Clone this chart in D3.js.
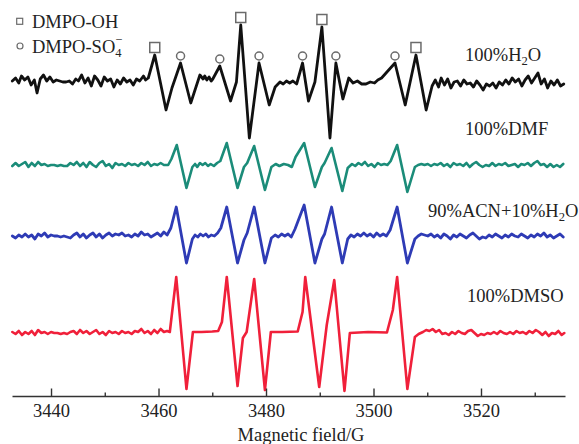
<!DOCTYPE html>
<html>
<head>
<meta charset="utf-8">
<script src="https://cdn.jsdelivr.net/npm/d3@7"></script>
<style>
  html, body { margin: 0; padding: 0; background: #fff; }
  svg { display: block; }
  text { font-family: "Liberation Serif", "Times New Roman", serif; fill: #222; }
</style>
</head>
<body>
<svg id="chart" width="579" height="444"></svg>
<script>
// EPR spectra: [magnetic field (G), intensity (a.u.)]
const h2o = [
  [3432.8,1],[3433.4,4],[3434.0,-1],[3434.5,6],[3435.1,2],[3435.7,5],[3436.3,-3],[3436.9,2],[3437.4,-11],[3438.0,3],
  [3438.6,7],[3439.2,1],[3439.8,5],[3440.4,0],[3441.0,2],[3441.6,1],[3442.2,0],[3442.8,0],[3443.4,1],[3444.0,-2],
  [3444.6,3],[3445.1,1],[3445.7,7],[3446.3,-1],[3446.9,4],[3447.5,-4],[3448.1,6],[3448.7,2],[3449.3,-4],[3449.9,5],
  [3450.5,1],[3451.1,3],[3451.7,-5],[3452.3,2],[3452.9,-2],[3453.5,4],[3454.1,0],[3454.7,2],[3455.3,-3],[3455.9,3],
  [3456.5,1],[3457.2,6],[3457.6,2],[3458.1,4],
  [3459.3,27],[3461.4,-28],[3462.5,-6],[3464.1,19],[3466.0,-21],[3467.7,7],[3468.3,3],[3468.6,6],[3469.0,2],[3469.4,5],
  [3469.8,1],[3470.1,3],[3471.4,16],[3473.4,-19],[3474.5,0],[3475.3,57],[3476.9,-56],[3478.7,19],[3480.6,-23],[3481.7,-5],
  [3482.6,0],[3483.2,-2],[3483.8,1],[3484.4,-1],[3485.0,1],[3485.7,-2],[3486.8,19],[3487.9,-19],[3489.1,0],[3490.4,55],
  [3491.9,-56],[3493.0,19],[3494.3,-17],[3495.4,4],[3496.2,-1],[3497.0,1],[3497.8,-2],[3498.6,-2],[3499.4,0],[3500.2,-1],
  [3500.8,2],[3501.5,4],[3502.5,10],[3504.0,19],[3505.9,-23],[3507.9,27],[3509.8,-28],[3510.9,-4],
  [3511.5,2],[3512.1,-5],[3512.6,4],[3513.2,-3],[3513.8,3],[3514.4,-6],[3515.0,0],[3515.6,1],[3516.2,-4],[3516.8,2],
  [3517.4,-2],[3518.0,-1],[3518.6,-5],[3519.2,1],[3519.8,-3],[3520.4,-8],[3521.0,-2],[3521.6,-4],[3522.2,-1],[3522.8,-6],
  [3523.4,0],[3524.0,-3],[3524.6,2],[3525.2,-2],[3525.8,4],[3526.4,0],[3527.0,3],[3527.6,-4],[3528.2,2],[3528.8,6],
  [3529.4,-1],[3530.0,4],[3530.6,9],[3531.2,-2],[3531.8,3],[3532.4,-6],[3533.0,1],[3533.6,-3],[3534.2,2],[3534.8,-4],
  [3535.4,-2]
];

const dmf = [
  [3432.8,-1],[3433.4,2],[3434.0,-1],[3434.6,1],[3435.2,3],[3435.8,-2],[3436.4,2],[3437.0,-1],[3437.6,3],[3438.2,0],
  [3438.8,1],[3439.4,-1],[3440.0,0],[3440.6,0],[3441.2,-1],[3441.8,0],[3442.4,-1],[3443.0,-1],[3443.6,2],[3444.2,0],
  [3444.8,3],[3445.4,-1],[3446.0,2],[3446.6,-2],[3447.2,3],[3447.8,0],[3448.4,-2],[3449.0,2],[3449.6,4],[3450.2,-1],
  [3450.8,1],[3451.4,-3],[3452.0,2],[3452.6,0],[3453.2,1],[3453.8,-1],[3454.4,2],[3455.0,0],[3455.6,1],[3456.2,-1],
  [3456.8,2],[3457.4,0],[3458.0,3],[3458.6,-1],[3459.2,1],[3459.8,0],[3460.4,2],[3461.0,0],[3461.8,0],
  [3462.4,6],[3463.4,20],[3465.2,-23],[3466.3,-2],[3466.8,1],[3467.2,-2],[3467.7,2],[3468.2,0],[3468.7,2],[3469.2,-1],
  [3469.7,1],[3470.3,-1],[3470.9,2],[3471.5,4],[3472.7,22],[3474.7,-23],[3475.9,-2],[3476.5,2],[3477.8,19],[3479.8,-25],
  [3481.0,-2],[3481.8,1],[3482.5,-1],[3483.3,1],[3484.1,0],[3484.8,-2],[3485.5,8],[3487.1,22],[3489.1,-22],[3490.4,-2],
  [3490.9,2],[3492.2,17],[3494.2,-26],[3495.2,-3],[3496.0,1],[3496.6,-1],[3497.2,2],[3497.8,0],[3498.4,3],[3499.0,-1],
  [3499.6,1],[3500.2,-2],[3500.8,2],[3501.4,0],[3502.0,1],[3502.6,0],[3503.2,4],[3504.4,20],[3506.3,-27],[3507.7,-2],
  [3508.3,0],[3508.9,1],[3509.5,0],[3510.1,1],[3510.7,-1],[3511.3,1],[3511.9,0],[3512.5,2],[3513.1,-1],[3513.7,1],
  [3514.3,-2],[3514.9,2],[3515.5,0],[3516.1,1],[3516.7,-1],[3517.3,2],[3517.9,-2],[3518.5,1],[3519.1,3],[3519.7,0],
  [3520.3,-2],[3520.9,0],[3521.5,-1],[3522.1,2],[3522.7,-1],[3523.3,1],[3523.9,0],[3524.5,2],[3525.1,-1],[3525.7,0],
  [3526.3,1],[3526.9,-2],[3527.5,1],[3528.1,0],[3528.7,2],[3529.3,-1],[3529.9,2],[3530.5,4],[3531.1,0],[3531.7,1],
  [3532.3,-2],[3532.9,1],[3533.5,-2],[3534.1,0],[3534.7,-2],[3535.3,1]
];

const acnWater = [
  [3432.8,0],[3433.4,-2],[3434.0,1],[3434.6,-1],[3435.2,2],[3435.8,-1],[3436.4,1],[3437.0,-3],[3437.6,2],[3438.2,0],
  [3438.8,3],[3439.4,-1],[3440.0,1],[3440.6,0],[3441.2,0],[3441.8,-1],[3442.4,0],[3443.0,-1],[3443.6,-2],[3444.2,1],
  [3444.8,3],[3445.4,-1],[3446.0,2],[3446.6,-2],[3447.2,1],[3447.8,3],[3448.4,-1],[3449.0,2],[3449.6,-2],[3450.2,1],
  [3450.8,3],[3451.4,0],[3452.0,2],[3452.6,1],[3453.2,3],[3453.8,0],[3454.4,1],[3455.0,-1],[3455.6,2],[3456.2,0],
  [3456.8,4],[3457.4,1],[3458.0,2],[3458.6,-1],[3459.2,1],[3459.8,3],[3460.4,0],[3461.0,4],[3461.6,1],
  [3462.3,8],[3463.3,29],[3465.2,-27],[3466.3,-3],[3466.8,1],[3467.3,-1],[3467.8,2],[3468.3,0],[3468.8,2],[3469.3,-1],
  [3469.8,1],[3470.4,0],[3471.0,3],[3471.6,8],[3472.7,29],[3474.7,-27],[3475.9,-4],[3476.5,3],[3477.8,29],[3479.8,-27],
  [3481.0,-2],[3481.7,1],[3482.3,-1],[3482.9,2],[3483.5,0],[3484.1,2],[3484.7,-1],[3485.4,7],[3487.1,31],[3489.1,-27],
  [3490.4,-3],[3490.9,2],[3492.2,29],[3494.2,-27],[3495.2,-3],[3495.8,1],[3496.4,-1],[3497.0,2],[3497.6,0],[3498.2,3],
  [3498.8,0],[3499.4,2],[3500.0,-1],[3500.6,3],[3501.2,0],[3501.8,2],[3502.4,0],[3503.1,6],[3504.4,29],[3506.3,-27],
  [3507.7,-3],[3508.3,0],[3508.9,2],[3509.5,1],[3510.1,0],[3510.7,2],[3511.3,-1],[3511.9,1],[3512.5,-2],[3513.1,2],
  [3513.7,0],[3514.3,-3],[3514.9,1],[3515.5,-1],[3516.1,2],[3516.7,0],[3517.3,-2],[3517.9,1],[3518.5,3],[3519.1,0],
  [3519.7,-3],[3520.3,-1],[3520.9,-2],[3521.5,1],[3522.1,-1],[3522.7,2],[3523.3,0],[3523.9,-2],[3524.5,1],[3525.1,-1],
  [3525.7,2],[3526.3,0],[3526.9,-1],[3527.5,2],[3528.1,0],[3528.7,-2],[3529.3,1],[3529.9,-1],[3530.5,2],[3531.1,0],
  [3531.7,3],[3532.3,-1],[3532.9,1],[3533.5,-2],[3534.1,0],[3534.7,2],[3535.3,-1]
];

const dmso = [
  [3432.8,1],[3433.4,-1],[3434.0,2],[3434.6,-2],[3435.2,1],[3435.8,-1],[3436.4,2],[3437.0,-2],[3437.6,3],[3438.2,0],
  [3438.8,1],[3439.4,-1],[3440.0,1],[3440.6,0],[3441.2,0],[3441.8,-1],[3442.4,0],[3443.0,-1],[3443.6,1],[3444.2,2],
  [3444.8,-1],[3445.4,3],[3446.0,0],[3446.6,2],[3447.2,-1],[3447.8,1],[3448.4,3],[3449.0,-1],[3449.6,1],[3450.2,-2],
  [3450.8,2],[3451.4,0],[3452.0,1],[3452.6,-1],[3453.2,2],[3453.8,0],[3454.4,1],[3455.0,-1],[3455.6,2],[3456.2,1],
  [3456.8,4],[3457.4,0],[3458.0,2],[3458.6,-1],[3459.2,3],[3459.8,0],[3460.4,4],[3461.0,1],[3461.6,2],[3462.1,1],
  [3463.3,56],[3465.2,-56],[3466.4,1],[3468.0,1],[3470.0,1.5],[3471.1,2],[3471.8,11],[3472.7,56],[3474.7,-53],[3475.7,-5],
  [3476.4,1],[3477.8,54],[3479.8,-57],[3480.9,1],[3483.0,1],[3485.9,1.5],[3486.8,21],[3487.3,56],[3489.9,-54],[3491.3,8],
  [3492.7,53],[3494.6,-58],[3495.6,0],[3499.0,1],[3502.5,0.5],[3503.6,23],[3504.4,56],[3506.3,-56],[3507.7,-4],[3508.4,-1],
  [3509.2,1],[3509.8,3],[3510.4,2],[3511.0,4],[3511.6,1],[3512.2,3],[3512.8,-1],[3513.4,0],[3514.0,-2],[3514.6,1],
  [3515.2,-1],[3515.8,2],[3516.4,0],[3517.0,-1],[3517.6,2],[3518.2,3],[3518.8,0],[3519.4,-3],[3520.0,-1],[3520.6,-2],
  [3521.2,0],[3521.8,-1],[3522.4,1],[3523.0,-1],[3523.6,2],[3524.2,0],[3524.8,-1],[3525.4,1],[3526.0,-1],[3526.6,2],
  [3527.2,0],[3527.8,1],[3528.4,-1],[3529.0,2],[3529.6,0],[3530.2,3],[3530.8,1],[3531.4,-2],[3532.0,1],[3532.6,-3],
  [3533.2,0],[3533.8,-1],[3534.4,2],[3535.0,-2],[3535.5,0]
];

// Peak assignments on the aqueous spectrum
const ohPeaks = [3459.3, 3475.3, 3490.4, 3507.9];
const so4Peaks = [3464.1, 3471.4, 3478.7, 3486.8, 3493.0, 3504.0];

// Axis ticks and title
const majorTicks = [3440, 3460, 3480, 3500, 3520];
const minorTicks = [3450, 3470, 3490, 3510, 3530];
const fieldDomain = [3432.74, 3535.63];
const axisTitle = "Magnetic field/G";

// Trace labels: [text, "sub" | ""]
const labelH2O = [["100%H", ""], ["2", "sub"], ["O", ""]];
const labelDMF = [["100%DMF", ""]];
const labelACN = [["90%ACN+10%H", ""], ["2", "sub"], ["O", ""]];
const labelDMSO = [["100%DMSO", ""]];

// ---- drawing ----
const svg = d3.select("#chart");
const FONT = 18.5;

const x = d3.scaleLinear().domain(fieldDomain).range([12, 565]);
// intensity to vertical pixel offset (shared by all traces)
const amp = d3.scaleLinear().domain([-60, 60]).range([60, -60]);

const traces = [
  { data: h2o,      color: "#111111", width: 2.8, base: 82,  label: labelH2O,  lx: 465, ly: 61 },
  { data: dmf,      color: "#1b8c79", width: 2.6, base: 165, label: labelDMF,  lx: 465, ly: 135 },
  { data: acnWater, color: "#2e3bb5", width: 2.8, base: 236, label: labelACN,  lx: 428, ly: 217 },
  { data: dmso,     color: "#f0203a", width: 2.6, base: 333, label: labelDMSO, lx: 467, ly: 302 }
];

function addRichText(sel, parts, size) {
  let shift = 0;
  parts.forEach(([t, kind]) => {
    const sp = sel.append("tspan").text(t);
    if (kind === "sub") {
      sp.attr("font-size", size * 0.68).attr("dy", 4 - shift);
      shift = 4;
    } else {
      sp.attr("dy", -shift);
      shift = 0;
    }
  });
}

// traces
traces.forEach(tr => {
  const line = d3.line()
    .x(d => x(d[0]))
    .y(d => tr.base + amp(d[1]));
  svg.append("path")
    .datum(tr.data)
    .attr("d", line)
    .attr("fill", "none")
    .attr("stroke", tr.color)
    .attr("stroke-width", tr.width)
    .attr("stroke-linejoin", "round")
    .attr("stroke-linecap", "round");

  const t = svg.append("text")
    .attr("x", tr.lx).attr("y", tr.ly)
    .attr("font-size", FONT);
  addRichText(t, tr.label, FONT);
});

// peak markers above the aqueous trace
const aqueous = traces[0];
function peakY(field) {
  const near = aqueous.data.filter(d => Math.abs(d[0] - field) <= 0.6);
  const v = d3.max(near, d => d[1]);
  return aqueous.base + amp(v);
}
const markStroke = "#6b6b6b";
svg.append("g").selectAll("rect")
  .data(ohPeaks).join("rect")
  .attr("x", d => x(d) - 5)
  .attr("y", d => peakY(d) - 12.5)
  .attr("width", 10).attr("height", 10)
  .attr("fill", "#fff").attr("stroke", markStroke).attr("stroke-width", 1.5);
svg.append("g").selectAll("circle")
  .data(so4Peaks).join("circle")
  .attr("cx", d => x(d))
  .attr("cy", d => peakY(d) - 7)
  .attr("r", 4)
  .attr("fill", "#fff").attr("stroke", markStroke).attr("stroke-width", 1.5);

// legend
svg.append("rect").attr("x", 16.7).attr("y", 18.3).attr("width", 6).attr("height", 6)
  .attr("fill", "#fff").attr("stroke", markStroke).attr("stroke-width", 1.2);
svg.append("text").attr("x", 32).attr("y", 28).attr("font-size", FONT).text("DMPO-OH");
svg.append("circle").attr("cx", 20).attr("cy", 46).attr("r", 3)
  .attr("fill", "#fff").attr("stroke", markStroke).attr("stroke-width", 1.2);
const lg = svg.append("text").attr("x", 32).attr("y", 53).attr("font-size", FONT);
lg.append("tspan").text("DMPO-SO");
lg.append("tspan").text("4").attr("font-size", 12.5).attr("dy", 4);
lg.append("tspan").text("\u2212").attr("font-size", 12.5).attr("dx", -6.3).attr("dy", -13);

// bottom axis: major ticks labelled, minor ticks unlabelled, both pointing up
const axisY = 396;
const gMajor = svg.append("g").attr("transform", `translate(0,${axisY})`)
  .call(d3.axisBottom(x).tickValues(majorTicks).tickFormat(d3.format("d"))
    .tickSizeInner(-7.5).tickSizeOuter(0).tickPadding(7.5));
const gMinor = svg.append("g").attr("transform", `translate(0,${axisY})`)
  .call(d3.axisBottom(x).tickValues(minorTicks).tickFormat("")
    .tickSizeInner(-3.5).tickSizeOuter(0));
gMinor.select(".domain").remove();
[gMajor, gMinor].forEach(g => {
  g.selectAll("line").attr("stroke", "#333").attr("stroke-width", 1.4);
  g.selectAll(".domain").attr("stroke", "#333").attr("stroke-width", 1.6);
  g.selectAll("text")
    .attr("font-family", "'Liberation Serif','Times New Roman',serif")
    .attr("font-size", FONT).attr("fill", "#222");
});

svg.append("text")
  .attr("x", 301).attr("y", 441)
  .attr("text-anchor", "middle")
  .attr("font-size", FONT)
  .text(axisTitle);
</script>
</body>
</html>
